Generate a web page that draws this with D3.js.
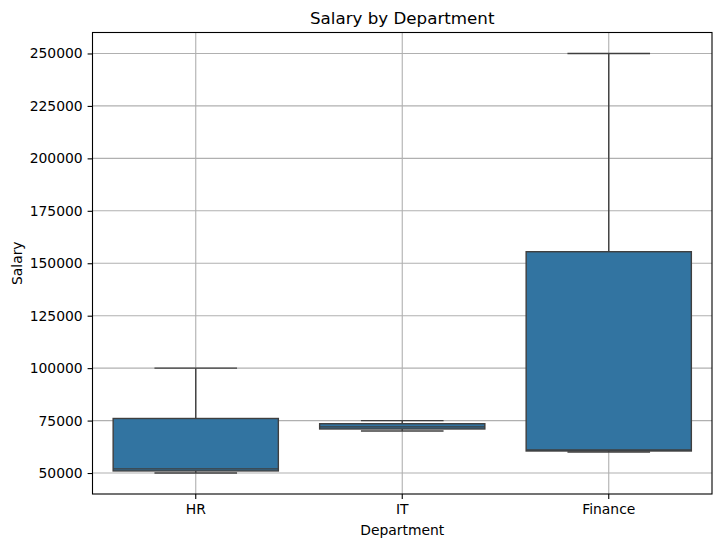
<!DOCTYPE html>
<html>
<head>
<meta charset="utf-8">
<script src="https://cdn.jsdelivr.net/npm/d3@7"></script>
<style>
  body { margin: 0; background: #fff; }
  svg { font-family: "DejaVu Sans", sans-serif; }
</style>
</head>
<body>
<div id="chart"></div>
<script>
// raw salaries per department
const departments = ["HR", "IT", "Finance"];
const hrSalaries = [50000, 52000, 100000];
const itSalaries = [70000, 72000, 75000];
const financeSalaries = [60000, 61000, 250000];
const yTicks = [50000, 75000, 100000, 125000, 150000, 175000, 200000, 225000, 250000];

const salaries = [hrSalaries, itSalaries, financeSalaries];

const W = 721, H = 547;
const margin = { top: 32.5, right: 9, bottom: 53, left: 92.5 };
const width = W - margin.left - margin.right;
const height = H - margin.top - margin.bottom;

const svg = d3.select("#chart")
    .append("svg")
    .attr("width", W)
    .attr("height", H);

const g = svg.append("g")
    .attr("transform", `translate(${margin.left},${margin.top})`);

const x = d3.scaleBand().domain(departments).range([0, width]).padding(0);
const y = d3.scaleLinear().domain([40000, 260000]).range([height, 0]);

// grid
g.append("g")
    .selectAll("line.hgrid")
    .data(yTicks)
    .join("line")
    .attr("x1", 0).attr("x2", width)
    .attr("y1", d => y(d)).attr("y2", d => y(d))
    .attr("stroke", "#b0b0b0").attr("stroke-width", 1.1);

g.append("g")
    .selectAll("line.vgrid")
    .data(departments)
    .join("line")
    .attr("x1", d => x(d) + x.bandwidth() / 2).attr("x2", d => x(d) + x.bandwidth() / 2)
    .attr("y1", 0).attr("y2", height)
    .attr("stroke", "#b0b0b0").attr("stroke-width", 1.1);

// box stats
function stats(vals) {
    const s = vals.slice().sort(d3.ascending);
    const q1 = d3.quantile(s, 0.25), med = d3.quantile(s, 0.5), q3 = d3.quantile(s, 0.75);
    const iqr = q3 - q1;
    const lo = d3.min(s.filter(v => v >= q1 - 1.5 * iqr));
    const hi = d3.max(s.filter(v => v <= q3 + 1.5 * iqr));
    return { q1, med, q3, lo, hi };
}

const lineColor = "#3f3f3f";
const boxes = g.append("g")
    .selectAll("g.box")
    .data(departments.map((d, i) => ({ dept: d, ...stats(salaries[i]) })))
    .join("g");

const bw = x.bandwidth() * 0.8, cw = x.bandwidth() * 0.4;
const cx = d => x(d.dept) + x.bandwidth() / 2;

boxes.append("line")
    .attr("x1", cx).attr("x2", cx)
    .attr("y1", d => y(d.q3)).attr("y2", d => y(d.hi))
    .attr("stroke", lineColor).attr("stroke-width", 1.4);
boxes.append("line")
    .attr("x1", cx).attr("x2", cx)
    .attr("y1", d => y(d.q1)).attr("y2", d => y(d.lo))
    .attr("stroke", lineColor).attr("stroke-width", 1.4);
boxes.append("line")
    .attr("x1", d => cx(d) - cw / 2).attr("x2", d => cx(d) + cw / 2)
    .attr("y1", d => y(d.hi)).attr("y2", d => y(d.hi))
    .attr("stroke", lineColor).attr("stroke-width", 1.4);
boxes.append("line")
    .attr("x1", d => cx(d) - cw / 2).attr("x2", d => cx(d) + cw / 2)
    .attr("y1", d => y(d.lo)).attr("y2", d => y(d.lo))
    .attr("stroke", lineColor).attr("stroke-width", 1.4);
boxes.append("rect")
    .attr("x", d => cx(d) - bw / 2)
    .attr("width", bw)
    .attr("y", d => y(d.q3))
    .attr("height", d => y(d.q1) - y(d.q3))
    .attr("fill", "#3274a1")
    .attr("stroke", lineColor).attr("stroke-width", 1.4);
boxes.append("line")
    .attr("x1", d => cx(d) - bw / 2).attr("x2", d => cx(d) + bw / 2)
    .attr("y1", d => y(d.med)).attr("y2", d => y(d.med))
    .attr("stroke", lineColor).attr("stroke-width", 1.4);

// axes
const yAxis = g.append("g")
    .call(d3.axisLeft(y).tickValues(yTicks).tickFormat(d3.format("d")).tickSize(4.9).tickPadding(4.9));
const xAxis = g.append("g")
    .attr("transform", `translate(0,${height})`)
    .call(d3.axisBottom(x).tickSize(4.9).tickPadding(4.9));

[xAxis, yAxis].forEach(a => {
    a.select(".domain").remove();
    a.selectAll(".tick line").attr("stroke", "#000").attr("stroke-width", 1.1);
    a.selectAll(".tick text")
        .attr("fill", "#000")
        .style("font-family", "DejaVu Sans")
        .style("font-size", "13.9px");
});

// frame
g.append("rect")
    .attr("width", width).attr("height", height)
    .attr("fill", "none").attr("stroke", "#000").attr("stroke-width", 1.1);

// titles
svg.append("text")
    .attr("x", margin.left + width / 2).attr("y", 24)
    .attr("text-anchor", "middle")
    .style("font-size", "16.7px")
    .text("Salary by Department");

svg.append("text")
    .attr("x", margin.left + width / 2).attr("y", 535)
    .attr("text-anchor", "middle")
    .style("font-size", "13.9px")
    .text("Department");

svg.append("text")
    .attr("transform", `translate(22,${margin.top + height / 2}) rotate(-90)`)
    .attr("text-anchor", "middle")
    .style("font-size", "13.9px")
    .text("Salary");
</script>
</body>
</html>
